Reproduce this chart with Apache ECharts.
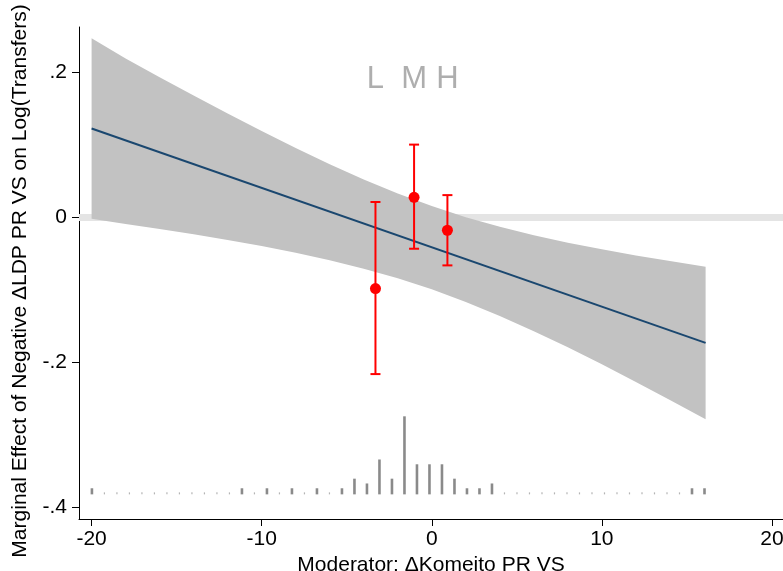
<!DOCTYPE html>
<html>
<head>
<meta charset="utf-8">
<script src="https://cdn.jsdelivr.net/npm/echarts@6/dist/echarts.min.js"></script>
<style>html,body{margin:0;padding:0;background:#fff;overflow:hidden;}#c{width:783px;height:571px;}</style>
</head>
<body>
<div id="c"></div>
<script>
// ---- data ----
const bandX     = [-20, -18, -16, -14, -12, -10, -8, -6, -4, -2, 0, 2, 4, 6, 8, 10, 12, 14, 16.1];
const bandUpper = [0.2475, 0.2194, 0.1938, 0.1685, 0.1436, 0.1194, 0.0959, 0.0736, 0.0525, 0.0332, 0.0158, 0.0006, -0.0127, -0.0244, -0.0347, -0.0438, -0.0522, -0.0600, -0.0678];
const bandLower = [-0.0015, -0.0088, -0.0158, -0.0231, -0.0310, -0.0394, -0.0485, -0.0588, -0.0705, -0.0838, -0.0990, -0.1164, -0.1357, -0.1568, -0.1791, -0.2026, -0.2268, -0.2516, -0.2782];
const fitX = [-20, 16.1];
const fitY = [0.123, -0.173];

const binNames = ['L', 'M', 'H'];
const binX     = [-3.31, -1.04, 0.92];
const binEst   = [-0.098, 0.028, -0.0175];
const binLo    = [-0.216, -0.043, -0.066];
const binHi    = [0.0215, 0.1007, 0.031];
const binLabelY = 0.19;

const histStart = -19.98;
const histWidth = 0.735;
const histCounts = [1,0,0,0,0,0,0,0,0,0,0,0,1,0,1,0,1,0,1,0,1,3,2,7,3,16,6,6,6,3,1,1,2,0,0,0,0,0,0,0,0,0,0,0,0,0,0,0,1,1];
const histBase = -0.382;
const histUnit = 0.00662;

const refY = 0;
const xTicks = [-20, -10, 0, 10, 20];
const yTicks = [-0.4, -0.2, 0, 0.2];
const yTickLabels = ['-.4', '-.2', '0', '.2'];

// ---- chart ----
const chart = echarts.init(document.getElementById('c'), null, {renderer: 'canvas', width: 783, height: 571});
const FONT = 'Liberation Sans, Arial, sans-serif';

const histData = histCounts.map((c, i) => [histStart + i * histWidth, c]);
const bandData = bandX.map((x, i) => [x, bandUpper[i], bandLower[i]]);
const ciData = binX.map((x, i) => [x, binEst[i], binLo[i], binHi[i]]);

chart.setOption({
  animation: false,
  backgroundColor: '#fff',
  grid: {left: 79, right: 0, top: 27, bottom: 52, containLabel: false, outerBoundsMode: 'none'},
  xAxis: {
    type: 'value', min: -20.74, max: 20.65,
    name: 'Moderator: \u0394Komeito PR VS', nameLocation: 'middle', nameGap: 30,
    nameTextStyle: {fontFamily: FONT, fontSize: 21, color: '#000'},
    axisLine: {onZero: false, lineStyle: {color: '#000', width: 1}},
    axisTick: {show: true, length: 7, customValues: xTicks, lineStyle: {color: '#000'}},
    axisLabel: {customValues: xTicks, fontFamily: FONT, fontSize: 21, color: '#000', margin: 10,
      formatter: v => String(v)},
    splitLine: {show: false}
  },
  yAxis: {
    type: 'value', min: -0.416, max: 0.263,
    name: 'Marginal Effect of Negative \u0394LDP PR VS on Log(Transfers)', nameLocation: 'middle', nameGap: 48,
    nameRotate: 90,
    nameTextStyle: {fontFamily: FONT, fontSize: 21, color: '#000', padding: [0, 16, 0, 0]},
    axisLine: {show: true, onZero: false, lineStyle: {color: '#000', width: 1}},
    axisTick: {show: true, length: 7, customValues: yTicks, lineStyle: {color: '#000'}},
    axisLabel: {customValues: yTicks, fontFamily: FONT, fontSize: 21, color: '#000', margin: 12,
      formatter: v => { const i = yTicks.findIndex(t => Math.abs(t - v) < 1e-9); return i >= 0 ? yTickLabels[i] : ''; }},
    splitLine: {show: false}
  },
  series: [
    { // zero reference line, full plot width, behind everything
      type: 'custom', z: 1, silent: true,
      data: [[0, refY]],
      encode: {x: 0, y: 1},
      renderItem: (params, api) => {
        const cs = params.coordSys;
        const p = api.coord([0, api.value(1)]);
        return {type: 'rect', shape: {x: cs.x, y: p[1] - 3.5, width: cs.width, height: 7}, style: {fill: '#e4e4e4'}};
      }
    },
    { // confidence band
      type: 'custom', z: 2, silent: true,
      data: bandData,
      encode: {x: 0, y: [1, 2]},
      renderItem: (params, api) => {
        if (params.dataIndex !== 0) return null;
        const pts = [];
        for (let i = 0; i < bandX.length; i++) pts.push(api.coord([bandX[i], bandUpper[i]]));
        for (let i = bandX.length - 1; i >= 0; i--) pts.push(api.coord([bandX[i], bandLower[i]]));
        return {type: 'polygon', shape: {points: pts}, style: {fill: '#c2c2c2'}};
      }
    },
    { // fitted marginal effect
      type: 'line', z: 3, silent: true, symbol: 'none',
      data: fitX.map((x, i) => [x, fitY[i]]),
      lineStyle: {color: '#1a476f', width: 2}
    },
    { // histogram of moderator
      type: 'custom', z: 3, silent: true,
      data: histData,
      encode: {x: 0, y: 1},
      renderItem: (params, api) => {
        const x = api.value(0), c = api.value(1);
        const b = api.coord([x, histBase]);
        if (c === 0) {
          return {type: 'rect', shape: {x: b[0] - 0.6, y: b[1] - 2, width: 1.2, height: 2}, style: {fill: '#b4b4b4'}};
        }
        const t = api.coord([x, histBase + c * histUnit]);
        return {type: 'rect', shape: {x: b[0] - 1.3, y: t[1] - 1.3, width: 2.6, height: b[1] - t[1] + 1.3}, style: {fill: '#8a8a8a'}};
      }
    },
    { // binned estimates with CIs
      type: 'custom', z: 5, silent: true,
      data: ciData,
      encode: {x: 0, y: [1, 2, 3]},
      renderItem: (params, api) => {
        const x = api.value(0);
        const pe = api.coord([x, api.value(1)]);
        const plo = api.coord([x, api.value(2)]);
        const phi = api.coord([x, api.value(3)]);
        const cw = 5;
        const st = {stroke: '#ff0000', lineWidth: 2};
        return {type: 'group', children: [
          {type: 'line', shape: {x1: plo[0], y1: plo[1], x2: phi[0], y2: phi[1]}, style: st},
          {type: 'line', shape: {x1: plo[0] - cw, y1: plo[1], x2: plo[0] + cw, y2: plo[1]}, style: st},
          {type: 'line', shape: {x1: phi[0] - cw, y1: phi[1], x2: phi[0] + cw, y2: phi[1]}, style: st},
          {type: 'circle', shape: {cx: pe[0], cy: pe[1], r: 5.5}, style: {fill: '#ff0000'}}
        ]};
      }
    },
    { // L M H labels
      type: 'scatter', z: 6, silent: true, symbolSize: 0,
      data: binNames.map((n, i) => ({name: n, value: [binX[i], binLabelY]})),
      label: {show: true, position: 'inside', formatter: p => p.name,
        fontFamily: FONT, fontSize: 31, color: '#9a9a9a'}
    }
  ]
});
</script>
</body>
</html>
